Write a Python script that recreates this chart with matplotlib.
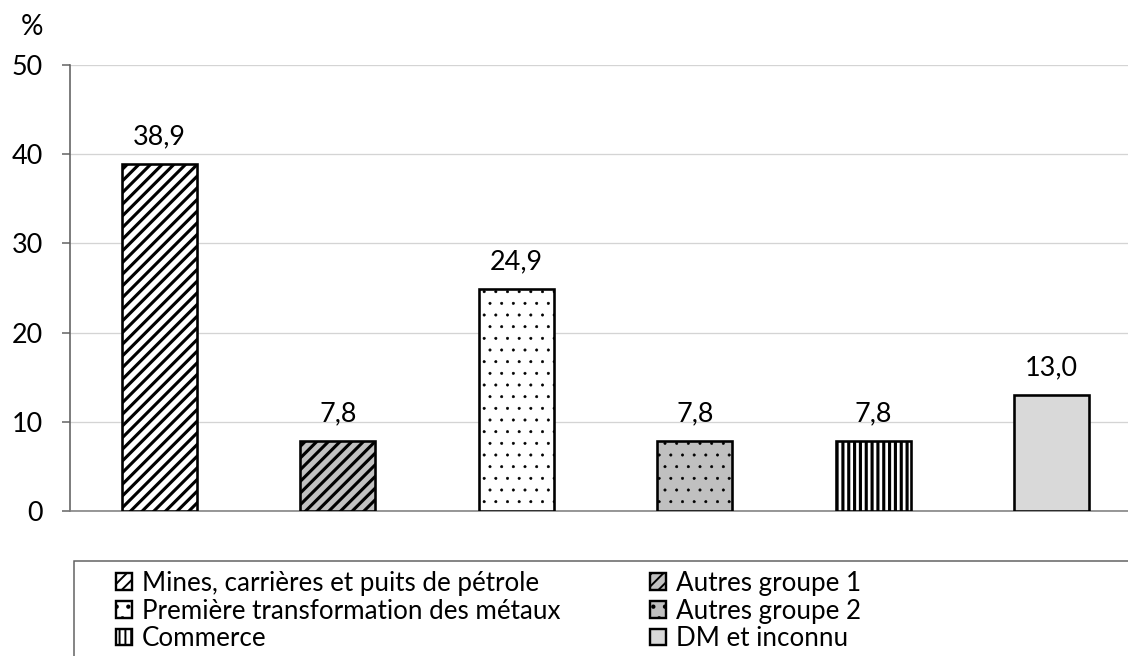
import matplotlib
matplotlib.use("Agg")
import matplotlib.pyplot as plt
from matplotlib.patches import Rectangle, Patch

DPI = 140
W, H = 1128, 656

categories = ["Mines, carrières et puits de pétrole", "Autres groupe 1",
              "Première transformation des métaux", "Autres groupe 2",
              "Commerce", "DM et inconnu"]
values = [38.9, 7.8, 24.9, 7.8, 7.8, 13.0]
value_labels = ["38,9", "7,8", "24,9", "7,8", "7,8", "13,0"]
yticks = [0, 10, 20, 30, 40, 50]

facecolors = ["white", "#c0c0c0", "white", "#c0c0c0", "white", "#d9d9d9"]
hatches = ["////", "////", "..", "..", "||||", None]
hatch_lw = [1.6, 1.6, 0.3, 0.3, 1.6, 0.5]

plt.rcParams['font.family'] = ['Lato', 'DejaVu Sans']

def pt(px):
    return px * 72.0 / DPI

fig = plt.figure(figsize=(W / DPI, H / DPI), dpi=DPI)
ax = fig.add_axes([70 / W, 1 - 511 / H, (1141 - 70) / W, (511 - 65) / H])

x = list(range(len(categories)))
bars = ax.bar(x, values, width=0.42, color=facecolors, edgecolor="black",
              linewidth=pt(2.6), zorder=3)
for b, h, lw in zip(bars, hatches, hatch_lw):
    if h:
        b.set_hatch(h)
        if hasattr(b, "set_hatch_linewidth"):
            b.set_hatch_linewidth(lw)

for xi, v, lab in zip(x, values, value_labels):
    ax.annotate(lab, (xi, v), xytext=(0, pt(20)), textcoords="offset points",
                ha="center", va="baseline", fontsize=pt(27))

ax.set_xlim(-0.5, len(categories) - 0.5)
ax.set_ylim(0, 50)
ax.set_yticks(yticks)
ax.set_yticklabels([str(t) for t in yticks])
ax.set_xticks([])
ax.yaxis.grid(True, color="#d4d4d4", linewidth=pt(1.3), zorder=0)
ax.set_axisbelow(True)
for s in ["top", "right"]:
    ax.spines[s].set_visible(False)
ax.spines["left"].set_color("#606060")
ax.spines["left"].set_linewidth(pt(1.6))
ax.spines["bottom"].set_color("#808080")
ax.spines["bottom"].set_linewidth(pt(1.6))
ax.tick_params(axis="y", direction="out", length=pt(8), width=pt(1.5),
               color="#606060", pad=pt(19), labelsize=pt(27))

fig.text(32 / W, 1 - 27 / H, "%", ha="center", va="center", fontsize=pt(28))

# legend frame
fig.patches.append(Rectangle((74 / W, -0.1), 1.2, (1 - 561 / H) + 0.1,
                             transform=fig.transFigure, fill=False,
                             edgecolor="#606060", linewidth=pt(1.5)))

def handle(i):
    p = Patch(facecolor=facecolors[i], edgecolor="black", linewidth=pt(2.4),
              hatch=hatches[i])
    if hatches[i] and hasattr(p, "set_hatch_linewidth"):
        p.set_hatch_linewidth(hatch_lw[i])
    return p

LFS = 26
col1 = [0, 2, 4]
col2 = [1, 3, 5]
common = dict(loc="upper left", frameon=False, fontsize=pt(LFS),
              handlelength=16 / LFS, handleheight=16 / LFS,
              handletextpad=10 / LFS, labelspacing=0.1,
              borderpad=0, borderaxespad=0)
fig.legend([handle(i) for i in col1], [categories[i] for i in col1],
           bbox_to_anchor=(116 / W, 1 - 571 / H), **common)
fig.legend([handle(i) for i in col2], [categories[i] for i in col2],
           bbox_to_anchor=(650 / W, 1 - 571 / H), **common)

fig.savefig("out.png", dpi=DPI)
